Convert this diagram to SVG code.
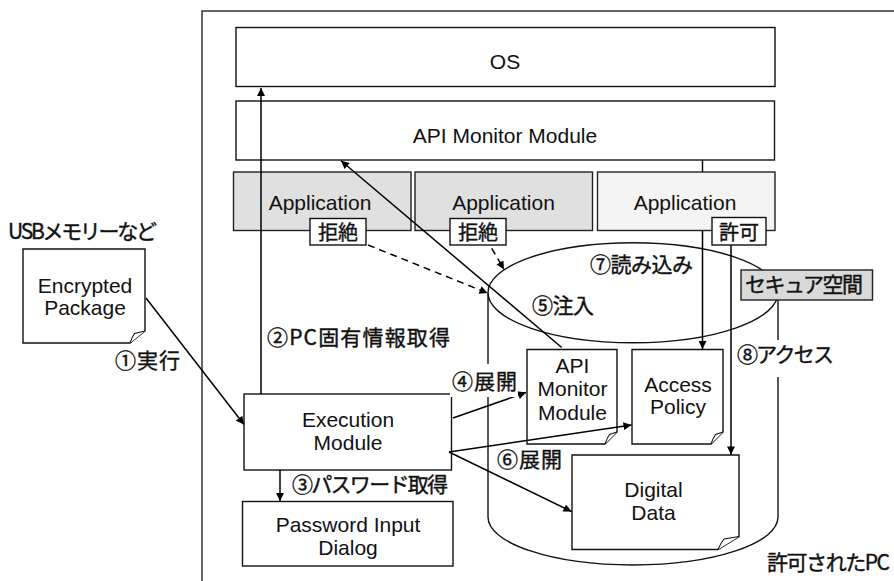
<svg xmlns="http://www.w3.org/2000/svg" width="894" height="581" viewBox="0 0 894 581">
  <defs>
    <marker id="arrow" viewBox="0 0 10 10" refX="10" refY="5" markerWidth="10" markerHeight="8" markerUnits="userSpaceOnUse" orient="auto">
      <path d="M0,0 L10,5 L0,10 z" fill="#000"/>
    </marker>
    <style>
      .box { fill: #fff; stroke: #111; stroke-width: 1.4; }
      .app-dim { fill: #e0e0e0; stroke: #222; stroke-width: 1.4; }
      .app-lit { fill: #f4f4f4; stroke: #222; stroke-width: 1.4; }
      .tag { fill: #fff; stroke: #111; stroke-width: 1.4; }
      .tag-gray { fill: #d9d9d9; stroke: #222; stroke-width: 1.4; }
      .doc { fill: #fff; stroke: #111; stroke-width: 1.4; stroke-linejoin: miter; }
      .curl { fill: #fff; stroke: #111; stroke-width: 1.1; }
      .outline { fill: none; stroke: #111; stroke-width: 1.4; }
      .en { font-family: "Liberation Sans", Arial, sans-serif; font-size: 21px; fill: #111; text-anchor: middle; }
      .jp { font-family: "Noto Sans CJK JP", "Liberation Sans", sans-serif; font-size: 21px; fill: #111; stroke: #111; stroke-width: 0.4; }
      .jpc { font-family: "Noto Sans CJK JP", "Liberation Sans", sans-serif; font-size: 20px; fill: #111; stroke: #111; stroke-width: 0.4; text-anchor: middle; }
      .link { fill: none; stroke: #000; stroke-width: 1.5; marker-end: url(#arrow); }
      .plain { fill: none; stroke: #000; stroke-width: 1.4; }
      .dash { stroke-dasharray: 7 5; }
    </style>
  </defs>

  <rect width="894" height="581" fill="#fff"/>

  <!-- PC frame, open to the right and bottom -->
  <g id="pc-frame">
    <rect x="202" y="11" width="760" height="640" fill="#fff" stroke="#333" stroke-width="1.5"/>
  </g>

  <g id="os">
    <rect class="box" x="236" y="27.5" width="539" height="59"/>
    <text class="en" x="505" y="69">OS</text>
  </g>

  <g id="api-monitor">
    <rect class="box" x="236" y="101" width="538.5" height="59"/>
    <text class="en" x="505" y="142.5">API Monitor Module</text>
  </g>

  <g id="app1">
    <rect class="app-dim" x="233.5" y="172" width="177.5" height="58.5"/>
    <text class="en" x="320" y="210">Application</text>
  </g>
  <g id="app2">
    <rect class="app-dim" x="415" y="172" width="177.5" height="58.5"/>
    <text class="en" x="503.5" y="210">Application</text>
  </g>
  <g id="app3">
    <rect class="app-lit" x="597.5" y="172" width="177.5" height="58.5"/>
    <text class="en" x="685" y="210">Application</text>
  </g>

  <!-- secure space cylinder -->
  <g id="secure-space">
    <path class="outline" d="M488,293 V517 A145,48 0 0 0 778,517 V293"/>
    <ellipse class="outline" cx="633" cy="292.7" rx="145" ry="50"/>
  </g>

  <g id="encrypted-package">
    <path class="doc" d="M23,249 H145 V331 L130,343 H23 Z"/>
    <path class="curl" d="M130,343 Q132,337 134.5,333.5 L145,331"/>
    <text class="en" x="85" y="292.5">Encrypted</text>
    <text class="en" x="85" y="315">Package</text>
  </g>

  <g id="api-monitor-file">
    <path class="doc" d="M527,349.5 H617 V432 L605,444 H527 Z"/>
    <path class="curl" d="M605,444 Q607,438 609.5,434.5 L617,432"/>
    <text class="en" x="572.5" y="373">API</text>
    <text class="en" x="572.5" y="396">Monitor</text>
    <text class="en" x="572.5" y="419.5">Module</text>
  </g>

  <g id="access-policy">
    <path class="doc" d="M632,349.5 H723 V432 L711,444 H632 Z"/>
    <path class="curl" d="M711,444 Q713,438 715.5,434.5 L723,432"/>
    <text class="en" x="678" y="391.5">Access</text>
    <text class="en" x="678" y="414">Policy</text>
  </g>

  <g id="digital-data">
    <path class="doc" d="M572,455 H739 V536.5 L718,549.5 H572 Z"/>
    <path class="curl" d="M718,549.5 Q721,542.5 724,539 L739,536.5"/>
    <text class="en" x="653.5" y="496.5">Digital</text>
    <text class="en" x="653.5" y="519.5">Data</text>
  </g>

  <g id="execution-module">
    <rect class="box" x="244" y="394" width="207.5" height="76"/>
    <text class="en" x="348" y="426.5">Execution</text>
    <text class="en" x="348" y="450">Module</text>
  </g>

  <g id="password-dialog">
    <rect class="box" x="242.5" y="501.5" width="210.5" height="64.5"/>
    <text class="en" x="348" y="531.5">Password Input</text>
    <text class="en" x="348" y="555">Dialog</text>
  </g>

  <!-- connectors -->
  <g id="connectors">
    <path class="link" d="M146,298 L244,424.5"/>
    <path class="link" d="M261,394 V88"/>
    <path class="link" d="M280,470 V501"/>
    <path class="link" d="M453,418 L526,392.5"/>
    <path class="link" d="M449,452 L631.5,425"/>
    <path class="link" d="M449,452 L571.5,511.5"/>
    <path class="link" d="M561.7,347.5 L341,160.8"/>
    <path class="link dash" d="M368,245 L487.5,293"/>
    <path class="link dash" d="M491.7,248.3 L504,269.5"/>
    <path class="plain" d="M702.5,160 V172"/>
    <path class="link" d="M702.5,230.5 V349"/>
    <path class="link" d="M731,245 V454.5"/>
  </g>

  <!-- labels -->
  <g id="labels">
    <text class="jp" x="8" y="238.5" textLength="149" lengthAdjust="spacing">USBメモリーなど</text>
    <text class="jp" x="115" y="368" textLength="65" lengthAdjust="spacing">①実行</text>
    <text class="jp" x="267" y="345" textLength="183" lengthAdjust="spacing">②PC固有情報取得</text>
    <text class="jp" x="292" y="491.5" textLength="156" lengthAdjust="spacing">③パスワード取得</text>
    <rect x="450" y="364" width="68" height="33" fill="#fff"/>
    <text class="jp" x="452" y="388.5" textLength="65" lengthAdjust="spacing">④展開</text>
    <text class="jp" x="532" y="313" textLength="62" lengthAdjust="spacing">⑤注入</text>
    <text class="jp" x="497" y="467" textLength="65" lengthAdjust="spacing">⑥展開</text>
    <text class="jp" x="590" y="272" textLength="103" lengthAdjust="spacing">⑦読み込み</text>
    <rect x="735" y="340" width="100" height="37" fill="#fff"/>
    <text class="jp" x="737" y="362" textLength="97" lengthAdjust="spacing">⑧アクセス</text>
    <text class="jp" x="767" y="570" textLength="123" lengthAdjust="spacing">許可されたPC</text>
  </g>

  <g id="tag-deny-1">
    <rect class="tag" x="310" y="218.5" width="56" height="26.5"/>
    <text class="jpc" x="338" y="240">拒絶</text>
  </g>
  <g id="tag-deny-2">
    <rect class="tag" x="450" y="218.5" width="56" height="26.5"/>
    <text class="jpc" x="478" y="240">拒絶</text>
  </g>
  <g id="tag-allow">
    <rect class="tag" x="712" y="217.5" width="54" height="27.5"/>
    <text class="jpc" x="739" y="240">許可</text>
  </g>
  <g id="tag-secure">
    <rect class="tag-gray" x="741" y="270" width="131.5" height="30"/>
    <text class="jp" x="745" y="292" textLength="118" lengthAdjust="spacing">セキュア空間</text>
  </g>
</svg>
